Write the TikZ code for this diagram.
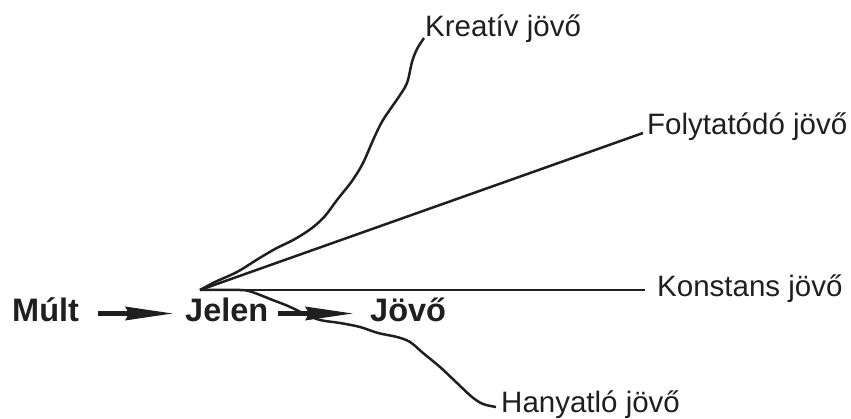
\documentclass[tikz,border=0pt]{standalone}
\usepackage{fontspec}
\setmainfont{Liberation Sans}
\usetikzlibrary{arrows.meta}
\tikzset{
  lbl/.style={inner sep=0pt, anchor=base west, font=\fontsize{29.5}{34}\selectfont, text=black!88},
  big/.style={inner sep=0pt, anchor=base west, font=\fontsize{32.5}{38}\selectfont\bfseries, text=black!88},
  path/.style={line width=2.5pt, black!88, line join=round},
  bigarrow/.style={line width=5pt, black!88, -{Stealth[length=48pt,width=13pt,inset=3pt]}}
}
\begin{document}
\begin{tikzpicture}[x=1pt,y=-1pt]
\useasboundingbox (0,0) rectangle (851,419);
\coordinate (apex) at (200,290);
\node[big] (mult) at (12,322) {Múlt};
\node[big] (jelen) at (185,322) {Jelen};
\node[big] (jovo) at (370,322) {Jövő};
\node[lbl] (kre) at (425,37) {Kreatív jövő};
\node[lbl] (fol) at (647,135) {Folytatódó jövő};
\node[lbl] (kon) at (657,297) {Konstans jövő};
\node[lbl] (han) at (501,412) {Hanyatló jövő};
\coordinate (kreEnd) at (424,38);
\coordinate (folEnd) at (643,133);
\coordinate (konEnd) at (645,290);
\coordinate (hanEnd) at (496,407);
\coordinate (a1s) at (98,313.5);
\coordinate (a1e) at (174,313.5);
\coordinate (a2s) at (278,313.5);
\coordinate (a2e) at (354,313.5);
% arrows
\draw[bigarrow] (a1s) -- (a1e);
\draw[bigarrow] (a2s) -- (a2e);
% futures
\draw[path] (apex) -- (folEnd);
\draw[path] (apex) -- (konEnd);
\draw[path] plot[smooth, tension=0.55] coordinates {(apex) (215,282) (237,272) (258,259) (275,249) (295,239) (312,228) (325,216) (337,200) (352,181) (363,163) (374,138) (383,120) (398,98) (407,83) (412,62) (417,49) (kreEnd)};
\draw[path] plot[smooth, tension=0.55] coordinates {(apex) (240,290) (252,292) (270,299) (288,306) (305,314) (320,320) (340,323) (360,327) (378,333) (397,337) (410,342) (423,353) (440,367) (457,383) (472,397) (483,404) (hanEnd)};
\end{tikzpicture}
\end{document}
